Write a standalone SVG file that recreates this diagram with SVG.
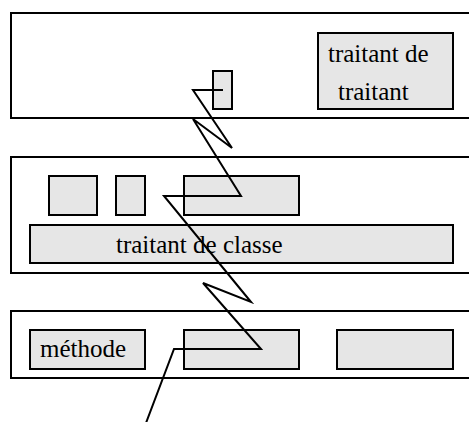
<svg xmlns="http://www.w3.org/2000/svg" width="469" height="422" viewBox="0 0 469 422">
<style>
.panel{fill:#ffffff;stroke:#000;stroke-width:2}
.box{fill:#e6e6e6;stroke:#000;stroke-width:2}
.lbl{font-family:"Liberation Serif","Times New Roman",Times,serif;font-size:25px;fill:#000}
.conn{fill:none;stroke:#000;stroke-width:2;stroke-linejoin:miter}
</style>
<rect width="469" height="422" fill="#ffffff"/>
<g id="panel-top">
<rect class="panel" x="11" y="13" width="470" height="105"/>
</g>
<g id="panel-middle">
<rect class="panel" x="11" y="157" width="470" height="116"/>
</g>
<g id="panel-bottom">
<rect class="panel" x="11" y="311" width="470" height="67"/>
</g>
<g id="traitant-de-traitant">
<rect class="box" x="318" y="33" width="135" height="76"/>
<text class="lbl" x="328" y="62">traitant de</text>
<text class="lbl" x="338" y="100">traitant</text>
</g>
<g id="small-top">
<rect class="box" x="213" y="71" width="19" height="38"/>
</g>
<g id="mid-box1">
<rect class="box" x="49" y="176" width="48" height="39"/>
</g>
<g id="mid-box2">
<rect class="box" x="116" y="176" width="29" height="39"/>
</g>
<g id="mid-box3">
<rect class="box" x="184" y="176" width="115" height="39"/>
</g>
<g id="traitant-de-classe">
<rect class="box" x="30" y="225" width="423" height="38"/>
<text class="lbl" x="116" y="253">traitant de classe</text>
</g>
<g id="methode">
<rect class="box" x="30" y="330" width="115" height="39"/>
<text class="lbl" x="40" y="357">méthode</text>
</g>
<g id="bot-box2">
<rect class="box" x="184" y="330" width="115" height="39"/>
</g>
<g id="bot-box3">
<rect class="box" x="337" y="330" width="116" height="39"/>
</g>
<g id="connectors">
<polyline class="conn" points="223,90 193,90 232,148 193,119 241,196 164,196 251,302 203,283 261,349 174,349 146,423"/>
</g>
</svg>
